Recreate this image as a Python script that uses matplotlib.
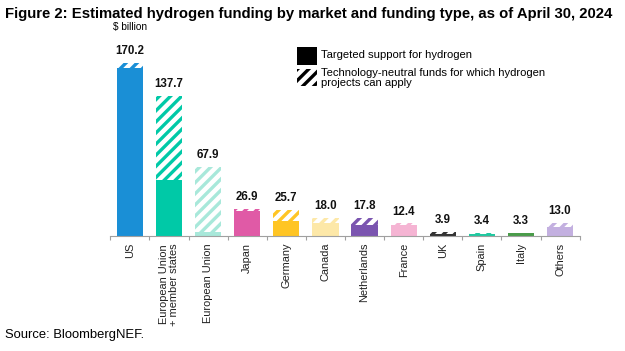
import matplotlib
matplotlib.use("Agg")
import matplotlib.pyplot as plt
import numpy as np
from matplotlib.patches import Rectangle

plt.rcParams['font.family'] = ['Liberation Sans', 'DejaVu Sans']
plt.rcParams['hatch.linewidth'] = 2.4

categories = ["US", "European Union\n+ member states", "European Union", "Japan", "Germany",
              "Canada", "Netherlands", "France", "UK", "Spain", "Italy", "Others"]
totals = [170.2, 137.7, 67.9, 26.9, 25.7, 18.0, 17.8, 12.4, 3.9, 3.4, 3.3, 13.0]
targeted = [165.0, 55.0, 4.0, 25.0, 14.5, 13.0, 11.0, 11.0, 1.8, 1.5, 3.3, 8.5]
colors = ["#1a8fd6", "#00c9a7", "#a8e8da", "#e05aa6", "#ffc524", "#fde8a8",
          "#7b55b0", "#f5b4d3", "#333333", "#20c9a0", "#4a9c4a", "#c3b0e0"]

W, H = 625, 351
fig = plt.figure(figsize=(W/100, H/100), dpi=100)

left, right, base, top = 110, 580, 236, 40
ax = fig.add_axes([left/W, (H-base)/H, (right-left)/W, (base-top)/H])
ymax = (base-top) / ((base-63)/170.2)
ax.set_ylim(0, ymax)
ax.set_xlim(-0.51, 11.51)

x = np.arange(len(categories))
neutral = [t - s for t, s in zip(totals, targeted)]
ax.bar(x, targeted, width=0.67, color=colors, linewidth=0)
ax.bar(x, neutral, bottom=targeted, width=0.67, facecolor="white",
       edgecolor=colors, hatch="///", linewidth=0)

for xi, t in zip(x, totals):
    ax.annotate(f"{t:.1f}", (xi, t), xytext=(0, 4), textcoords="offset points",
                ha="center", va="bottom", fontsize=8.3, fontweight="bold", color="#111111")

for s in ["top", "right", "left"]:
    ax.spines[s].set_visible(False)
ax.spines["bottom"].set_color("#a0a0a0")
ax.spines["bottom"].set_linewidth(0.8)
ax.set_yticks([])
ax.set_xticks(x)
ax.set_xticklabels(categories, rotation=90, fontsize=7.9, color="#222222", va="top", ha="center",
                   linespacing=0.92)
ax.tick_params(axis="x", which="major", length=0, pad=5)
ax.set_xticks(np.arange(-0.5, 12, 1), minor=True)
ax.tick_params(axis="x", which="minor", length=3, color="#a0a0a0", width=0.8)

fig.text(5/W, 1-14/H, "Figure 2: Estimated hydrogen funding by market and funding type, as of April 30, 2024",
         fontsize=10.7, fontweight="bold", va="center", ha="left")
fig.text(113/W, 1-27/H, "$ billion", fontsize=7.3, va="center", ha="left")
fig.text(5/W, 1-335/H, "Source: BloombergNEF.", fontsize=9.4, va="center", ha="left")

# legend
lx, lw = 297/W, 20/W
fig.patches.append(Rectangle((lx, 1-65/H), lw, 18/H, transform=fig.transFigure,
                             facecolor="black", linewidth=0))
fig.patches.append(Rectangle((lx, 1-86/H), lw, 17/H, transform=fig.transFigure,
                             facecolor="white", edgecolor="black", hatch="///", linewidth=0))
fig.text(321/W, 1-55/H, "Targeted support for hydrogen", fontsize=8.1, va="center", ha="left")
fig.text(321/W, 1-78/H, "Technology-neutral funds for which hydrogen\nprojects can apply",
         fontsize=8.1, va="center", ha="left", linespacing=1.0)

fig.savefig("out.png", dpi=100)
